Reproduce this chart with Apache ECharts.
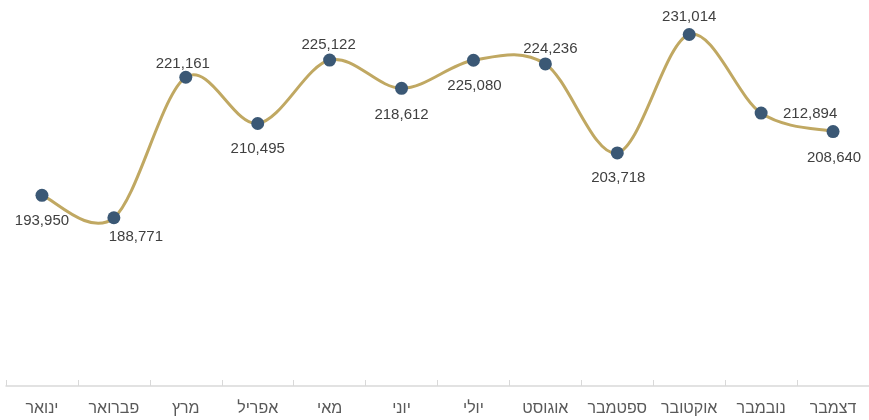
<!DOCTYPE html>
<html>
<head>
<meta charset="utf-8">
<script src="https://cdn.jsdelivr.net/npm/echarts@6/dist/echarts.min.js"></script>
<style>
html,body{margin:0;padding:0;background:#fff;}
#c{width:869px;height:420px;}
</style>
</head>
<body>
<div id="c"></div>
<script>
var categories = ['ינואר','פברואר','מרץ','אפריל','מאי','יוני','יולי','אוגוסט','ספטמבר','אוקטובר','נובמבר','דצמבר'];
var values = [193950,188771,221161,210495,225122,218612,225080,224236,203718,231014,212894,208640];
// label offsets (dx, dy) relative to each marker
var labelOffsets = [[0,26],[22,19],[-3,-13],[0,25],[-1,-15],[0,27],[1,26],[5,-15],[1,25],[0,-18],[49,1],[1,26]];

var chart = echarts.init(document.getElementById('c'), null, {renderer:'canvas'});
var seriesData = values.map(function(v,i){
  return {value:v, label:{offset:labelOffsets[i]}};
});
var curveData = values.map(function(v,i){ return [i, v]; });

function renderCurve(params, api){
  if (params.dataIndex !== 0) return;
  var pts = values.map(function(v,i){ return api.coord([i, v]); });
  var n = pts.length, t = 1/6;
  var d = 'M' + pts[0][0] + ' ' + pts[0][1];
  for (var i = 0; i < n - 1; i++) {
    var p0 = pts[i > 0 ? i - 1 : i], p1 = pts[i], p2 = pts[i + 1], p3 = pts[i + 2 < n ? i + 2 : i + 1];
    var c1x = p1[0] + (p2[0] - p0[0]) * t, c1y = p1[1] + (p2[1] - p0[1]) * t;
    var c2x = p2[0] - (p3[0] - p1[0]) * t, c2y = p2[1] - (p3[1] - p1[1]) * t;
    d += ' C' + c1x + ' ' + c1y + ' ' + c2x + ' ' + c2y + ' ' + p2[0] + ' ' + p2[1];
  }
  return {type:'path', shape:{pathData:d}, style:{stroke:'#C0A862', lineWidth:3, fill:'none'}};
}

chart.setOption({
  animation:false,
  grid:{left:6, top:0, width:864, bottom:34, containLabel:false},
  xAxis:{
    type:'category',
    data:categories,
    boundaryGap:true,
    axisLine:{show:true, lineStyle:{color:'#D9D9D9', width:1.5}},
    axisTick:{show:true, inside:true, length:6, lineStyle:{color:'#D9D9D9', width:1}},
    axisLabel:{color:'#595959', fontSize:16, fontFamily:'Liberation Sans', margin:15, interval:0}
  },
  yAxis:{
    type:'value', min:150000, max:238960,
    show:false, splitLine:{show:false}
  },
  series:[{
    type:'custom',
    data:curveData,
    renderItem:renderCurve,
    clip:false,
    z:1,
    silent:true
  },{
    type:'line',
    data:seriesData,
    symbol:'circle',
    symbolSize:13,
    z:2,
    lineStyle:{width:0, opacity:0},
    itemStyle:{color:'#3B5875', borderWidth:0},
    label:{
      show:true,
      position:'inside',
      color:'#404040',
      fontSize:15,
      fontFamily:'Liberation Sans',
      formatter:function(p){return p.value.toLocaleString('en-US');}
    }
  }]
});
</script>
</body>
</html>
